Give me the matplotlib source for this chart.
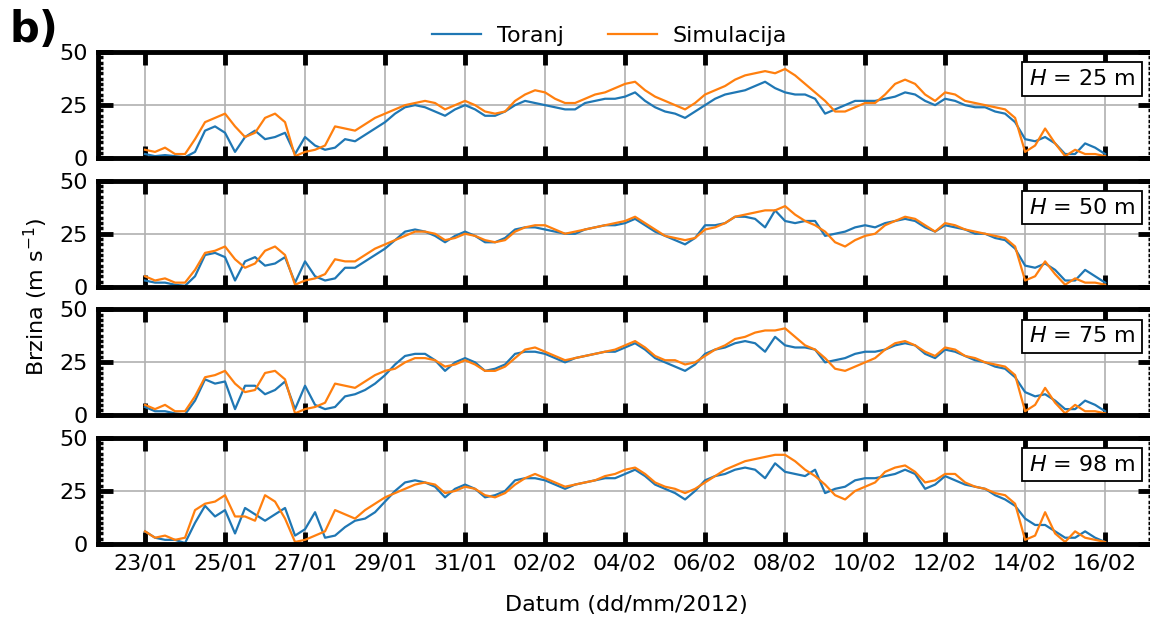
import matplotlib
matplotlib.use("Agg")
import matplotlib.pyplot as plt
import matplotlib.dates as mdates
import numpy as np
import pandas as pd

# 6-hourly wind speed (m/s), 23/01/2012 00:00 .. 16/02/2012 00:00
vrijeme = pd.date_range("2012-01-23", periods=97, freq="6h")

toranj_25 = [2, 1, 1.5, 1, 0.5, 3, 13, 15,
             12, 3, 10, 13, 9, 10, 12, 2,
             10, 6, 4, 5, 9, 8, 11, 14,
             17, 21, 24, 25, 24, 22, 20, 23,
             25, 23, 20, 20, 22, 25, 27, 26,
             25, 24, 23, 23, 26, 27, 28, 28,
             29, 31, 27, 24, 22, 21, 19, 22,
             25, 28, 30, 31, 32, 34, 36, 33,
             31, 30, 30, 28, 21, 23, 25, 27,
             27, 27, 28, 29, 31, 30, 27, 25,
             28, 27, 25, 24, 24, 22, 21, 17,
             9, 8, 10, 7, 2, 2, 7, 5,
             2]
sim_25 = [4, 3, 5, 2, 2, 9, 17, 19,
          21, 15, 10, 12, 19, 21, 17, 1,
          3, 4, 6, 15, 14, 13, 16, 19,
          21, 23, 25, 26, 27, 26, 23, 25,
          27, 25, 22, 21, 22, 27, 30, 32,
          31, 28, 26, 26, 28, 30, 31, 33,
          35, 36, 32, 29, 27, 25, 23, 26,
          30, 32, 34, 37, 39, 40, 41, 40,
          42, 39, 35, 31, 27, 22, 22, 24,
          26, 26, 30, 35, 37, 35, 30, 27,
          31, 30, 27, 26, 25, 24, 23, 19,
          3, 6, 14, 7, 1, 4, 2, 2,
          1]

toranj_50 = [3, 2, 2, 1, 0.5, 5, 15, 16,
             14, 3, 12, 14, 10, 11, 14, 2,
             12, 5, 3, 4, 9, 9, 12, 15,
             18, 22, 26, 27, 26, 24, 21, 24,
             26, 24, 21, 21, 23, 27, 28, 28,
             27, 26, 25, 25, 27, 28, 29, 29,
             30, 32, 29, 26, 24, 22, 20, 23,
             29, 29, 30, 33, 33, 32, 28, 36,
             31, 30, 31, 31, 24, 25, 26, 28,
             29, 28, 30, 31, 32, 31, 28, 26,
             29, 28, 27, 25, 25, 23, 22, 18,
             10, 9, 11, 8, 3, 3, 8, 5,
             2]
sim_50 = [5, 3, 4, 2, 2, 8, 16, 17,
          19, 13, 9, 11, 17, 19, 15, 1,
          3, 4, 6, 13, 12, 12, 15, 18,
          20, 22, 24, 26, 26, 25, 22, 23,
          25, 24, 22, 21, 22, 26, 28, 29,
          29, 27, 25, 26, 27, 28, 29, 30,
          31, 33, 30, 27, 24, 23, 22, 23,
          27, 28, 30, 33, 34, 35, 36, 36,
          38, 34, 31, 29, 26, 21, 19, 22,
          24, 25, 29, 31, 33, 32, 29, 26,
          30, 29, 27, 26, 25, 24, 23, 19,
          3, 5, 12, 6, 1, 4, 2, 2,
          1]

toranj_75 = [4, 2, 2, 1, 0.5, 7, 17, 15,
             16, 3, 14, 14, 10, 12, 16, 3,
             14, 5, 3, 4, 9, 10, 12, 15,
             19, 24, 28, 29, 29, 26, 21, 25,
             27, 25, 21, 22, 24, 29, 30, 30,
             29, 27, 25, 27, 28, 29, 30, 30,
             32, 34, 31, 27, 25, 23, 21, 24,
             29, 31, 32, 34, 35, 34, 30, 37,
             33, 32, 32, 31, 25, 26, 27, 29,
             30, 30, 31, 33, 34, 33, 29, 27,
             31, 30, 28, 26, 25, 23, 22, 18,
             11, 9, 10, 7, 3, 3, 7, 5,
             2]
sim_75 = [5, 3, 5, 2, 2, 9, 18, 19,
          21, 15, 11, 12, 20, 21, 17, 1,
          3, 4, 6, 15, 14, 13, 16, 19,
          21, 22, 25, 27, 27, 26, 23, 24,
          26, 24, 21, 21, 23, 27, 31, 32,
          30, 28, 26, 27, 28, 29, 30, 31,
          33, 35, 32, 28, 26, 26, 24, 25,
          28, 31, 33, 36, 37, 39, 40, 40,
          41, 37, 33, 31, 27, 22, 21, 23,
          25, 27, 31, 34, 35, 33, 30, 28,
          32, 31, 28, 27, 25, 24, 23, 19,
          2, 5, 13, 6, 1, 5, 2, 2,
          1]

toranj_98 = [6, 3, 2, 2, 0.5, 10, 18, 13,
             16, 5, 17, 14, 11, 14, 17, 4,
             7, 15, 3, 4, 8, 11, 12, 15,
             20, 25, 29, 30, 29, 27, 22, 26,
             28, 26, 22, 23, 25, 30, 31, 31,
             30, 28, 26, 28, 29, 30, 31, 31,
             33, 35, 32, 28, 26, 24, 21, 25,
             30, 32, 33, 35, 36, 35, 31, 38,
             34, 33, 32, 35, 24, 26, 27, 30,
             31, 31, 32, 33, 35, 33, 26, 28,
             32, 30, 28, 27, 26, 23, 21, 18,
             12, 9, 9, 6, 3, 3, 6, 3,
             1]
sim_98 = [6, 3, 4, 2, 3, 16, 19, 20,
          23, 13, 13, 11, 23, 20, 12, 1,
          2, 4, 6, 16, 14, 12, 16, 19,
          22, 24, 26, 28, 29, 28, 24, 25,
          27, 26, 23, 22, 24, 28, 31, 33,
          31, 29, 27, 28, 29, 30, 32, 33,
          35, 36, 33, 29, 27, 26, 24, 26,
          29, 32, 35, 37, 39, 40, 41, 42,
          42, 39, 35, 32, 28, 23, 21, 25,
          27, 29, 34, 36, 37, 34, 29, 30,
          33, 33, 29, 27, 26, 24, 23, 19,
          2, 4, 15, 5, 1, 6, 3, 2,
          1]

visine = [25, 50, 75, 98]
toranj = [toranj_25, toranj_50, toranj_75, toranj_98]
simulacija = [sim_25, sim_50, sim_75, sim_98]

plt.rcParams["font.family"] = "DejaVu Sans"
plt.rcParams["font.size"] = 16

fig, axes = plt.subplots(4, 1, figsize=(11.5, 6.19), dpi=100, sharex=True)
fig.subplots_adjust(left=0.0848, right=1.003, top=0.916, bottom=0.121, hspace=0.21)

start = pd.Timestamp("2012-01-23")
xlim = (start - pd.Timedelta(hours=28.5), start + pd.Timedelta(hours=605))
ticks = pd.date_range("2012-01-23", "2012-02-16", freq="2D")

for ax, h, t, s in zip(axes, visine, toranj, simulacija):
    ax.plot(vrijeme, t, color="#1f77b4", lw=1.6, label="Toranj")
    ax.plot(vrijeme, s, color="#ff7f0e", lw=1.6, label="Simulacija")
    ax.set_ylim(0, 50)
    ax.set_xlim(xlim)
    ax.set_yticks([0, 25, 50])
    ax.set_yticks(np.arange(0, 50.1, 2.5), minor=True)
    ax.set_xticks(ticks)
    ax.xaxis.set_major_formatter(mdates.DateFormatter("%d/%m"))
    ax.grid(True, which="major", color="#b0b0b0", lw=1.2)
    ax.set_axisbelow(True)
    for sp in ax.spines.values():
        sp.set_linewidth(3.5)
    ax.tick_params(axis="both", which="major", direction="in", top=True,
                   right=True, length=9, width=3.5, pad=7, labelsize=16)
    ax.tick_params(axis="y", which="major", length=11)
    ax.tick_params(axis="y", which="minor", direction="in", right=True,
                   length=3.5, width=2.5)
    ax.tick_params(axis="x", which="minor", bottom=False, top=False)
    ax.text(0.983, 0.84, rf"$H$ = {h} m", transform=ax.transAxes,
            ha="right", va="top", fontsize=16,
            bbox=dict(boxstyle="square,pad=0.3", fc="white", ec="black", lw=1.3))

for ax in axes[:-1]:
    ax.tick_params(axis="x", labelbottom=False)

handles, labels = axes[0].get_legend_handles_labels()
fig.legend(handles, labels, loc="center", bbox_to_anchor=(0.53, 0.942), ncol=2,
           frameon=False, fontsize=16, handlelength=2.2, handletextpad=0.7,
           columnspacing=2.0)

fig.text(0.008, 0.985, "b)", fontsize=30, fontweight="bold", va="top", ha="left")
fig.text(0.031, 0.52, r"Brzina (m s$^{-1}$)", rotation=90, ha="center", va="center",
         fontsize=16)
fig.text(0.545, 0.022, "Datum (dd/mm/2012)", ha="center", va="center", fontsize=16)

fig.savefig("out.png", dpi=100)
